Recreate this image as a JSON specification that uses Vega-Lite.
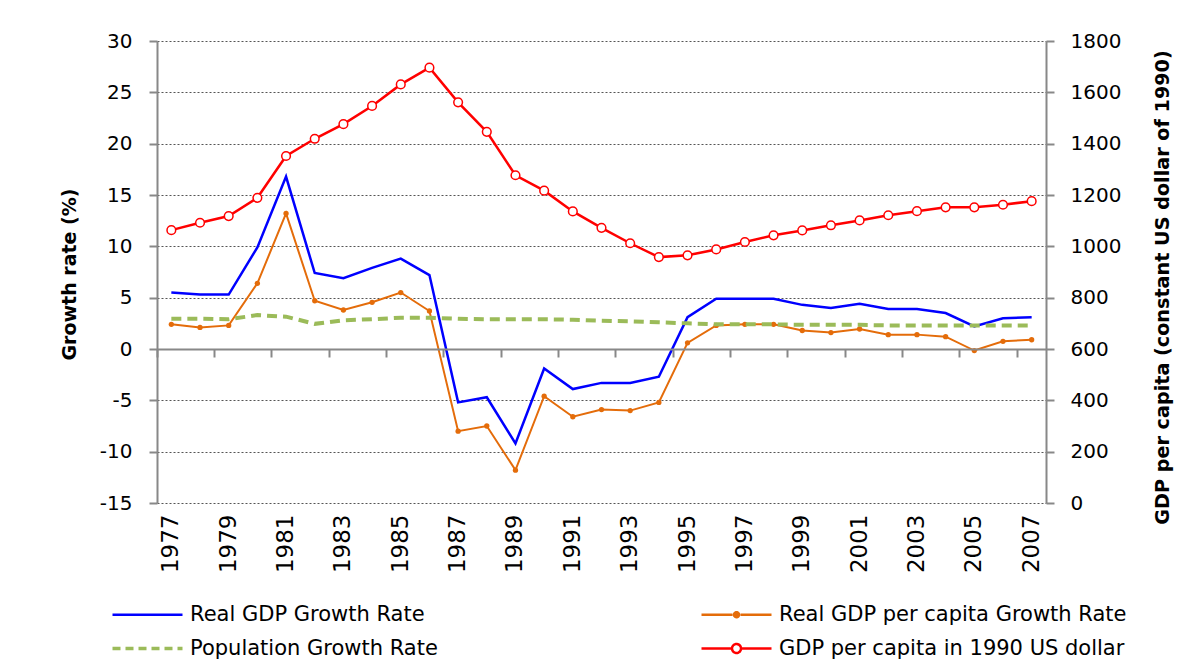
{
  "$schema": "https://vega.github.io/schema/vega-lite/v6.json",
  "width": 889,
  "height": 462,
  "autosize": {"type": "none"},
  "padding": {"left": 157, "top": 41, "right": 149, "bottom": 161},
  "background": "white",
  "config": {
    "view": {"stroke": null},
    "font": "DejaVu Sans",
    "axis": {"labelFont": "DejaVu Sans", "titleFont": "DejaVu Sans", "labelColor": "#000000", "titleColor": "#000000"}
  },
  "data": {
    "values": [
      {"year": 1977, "series": "Real GDP Growth Rate", "value": 5.5},
      {"year": 1978, "series": "Real GDP Growth Rate", "value": 5.3},
      {"year": 1979, "series": "Real GDP Growth Rate", "value": 5.3},
      {"year": 1980, "series": "Real GDP Growth Rate", "value": 9.9},
      {"year": 1981, "series": "Real GDP Growth Rate", "value": 16.8},
      {"year": 1982, "series": "Real GDP Growth Rate", "value": 7.4},
      {"year": 1983, "series": "Real GDP Growth Rate", "value": 6.9},
      {"year": 1984, "series": "Real GDP Growth Rate", "value": 7.9},
      {"year": 1985, "series": "Real GDP Growth Rate", "value": 8.8},
      {"year": 1986, "series": "Real GDP Growth Rate", "value": 7.2},
      {"year": 1987, "series": "Real GDP Growth Rate", "value": -5.2},
      {"year": 1988, "series": "Real GDP Growth Rate", "value": -4.7},
      {"year": 1989, "series": "Real GDP Growth Rate", "value": -9.2},
      {"year": 1990, "series": "Real GDP Growth Rate", "value": -1.9},
      {"year": 1991, "series": "Real GDP Growth Rate", "value": -3.9},
      {"year": 1992, "series": "Real GDP Growth Rate", "value": -3.3},
      {"year": 1993, "series": "Real GDP Growth Rate", "value": -3.3},
      {"year": 1994, "series": "Real GDP Growth Rate", "value": -2.7},
      {"year": 1995, "series": "Real GDP Growth Rate", "value": 3.1},
      {"year": 1996, "series": "Real GDP Growth Rate", "value": 4.9},
      {"year": 1997, "series": "Real GDP Growth Rate", "value": 4.9},
      {"year": 1998, "series": "Real GDP Growth Rate", "value": 4.9},
      {"year": 1999, "series": "Real GDP Growth Rate", "value": 4.3},
      {"year": 2000, "series": "Real GDP Growth Rate", "value": 4.0},
      {"year": 2001, "series": "Real GDP Growth Rate", "value": 4.4},
      {"year": 2002, "series": "Real GDP Growth Rate", "value": 3.9},
      {"year": 2003, "series": "Real GDP Growth Rate", "value": 3.9},
      {"year": 2004, "series": "Real GDP Growth Rate", "value": 3.5},
      {"year": 2005, "series": "Real GDP Growth Rate", "value": 2.2},
      {"year": 2006, "series": "Real GDP Growth Rate", "value": 3.0},
      {"year": 2007, "series": "Real GDP Growth Rate", "value": 3.1},

      {"year": 1977, "series": "Real GDP per capita Growth Rate", "value": 2.4},
      {"year": 1978, "series": "Real GDP per capita Growth Rate", "value": 2.1},
      {"year": 1979, "series": "Real GDP per capita Growth Rate", "value": 2.3},
      {"year": 1980, "series": "Real GDP per capita Growth Rate", "value": 6.4},
      {"year": 1981, "series": "Real GDP per capita Growth Rate", "value": 13.2},
      {"year": 1982, "series": "Real GDP per capita Growth Rate", "value": 4.7},
      {"year": 1983, "series": "Real GDP per capita Growth Rate", "value": 3.8},
      {"year": 1984, "series": "Real GDP per capita Growth Rate", "value": 4.55},
      {"year": 1985, "series": "Real GDP per capita Growth Rate", "value": 5.5},
      {"year": 1986, "series": "Real GDP per capita Growth Rate", "value": 3.7},
      {"year": 1987, "series": "Real GDP per capita Growth Rate", "value": -8.0},
      {"year": 1988, "series": "Real GDP per capita Growth Rate", "value": -7.5},
      {"year": 1989, "series": "Real GDP per capita Growth Rate", "value": -11.8},
      {"year": 1990, "series": "Real GDP per capita Growth Rate", "value": -4.6},
      {"year": 1991, "series": "Real GDP per capita Growth Rate", "value": -6.6},
      {"year": 1992, "series": "Real GDP per capita Growth Rate", "value": -5.9},
      {"year": 1993, "series": "Real GDP per capita Growth Rate", "value": -6.0},
      {"year": 1994, "series": "Real GDP per capita Growth Rate", "value": -5.2},
      {"year": 1995, "series": "Real GDP per capita Growth Rate", "value": 0.6},
      {"year": 1996, "series": "Real GDP per capita Growth Rate", "value": 2.3},
      {"year": 1997, "series": "Real GDP per capita Growth Rate", "value": 2.4},
      {"year": 1998, "series": "Real GDP per capita Growth Rate", "value": 2.4},
      {"year": 1999, "series": "Real GDP per capita Growth Rate", "value": 1.8},
      {"year": 2000, "series": "Real GDP per capita Growth Rate", "value": 1.6},
      {"year": 2001, "series": "Real GDP per capita Growth Rate", "value": 1.95},
      {"year": 2002, "series": "Real GDP per capita Growth Rate", "value": 1.4},
      {"year": 2003, "series": "Real GDP per capita Growth Rate", "value": 1.4},
      {"year": 2004, "series": "Real GDP per capita Growth Rate", "value": 1.2},
      {"year": 2005, "series": "Real GDP per capita Growth Rate", "value": -0.15},
      {"year": 2006, "series": "Real GDP per capita Growth Rate", "value": 0.75},
      {"year": 2007, "series": "Real GDP per capita Growth Rate", "value": 0.9},

      {"year": 1977, "series": "Population Growth Rate", "value": 2.95},
      {"year": 1978, "series": "Population Growth Rate", "value": 2.95},
      {"year": 1979, "series": "Population Growth Rate", "value": 2.9},
      {"year": 1980, "series": "Population Growth Rate", "value": 3.3},
      {"year": 1981, "series": "Population Growth Rate", "value": 3.15},
      {"year": 1982, "series": "Population Growth Rate", "value": 2.45},
      {"year": 1983, "series": "Population Growth Rate", "value": 2.8},
      {"year": 1984, "series": "Population Growth Rate", "value": 2.9},
      {"year": 1985, "series": "Population Growth Rate", "value": 3.05},
      {"year": 1986, "series": "Population Growth Rate", "value": 3.05},
      {"year": 1987, "series": "Population Growth Rate", "value": 2.95},
      {"year": 1988, "series": "Population Growth Rate", "value": 2.9},
      {"year": 1989, "series": "Population Growth Rate", "value": 2.9},
      {"year": 1990, "series": "Population Growth Rate", "value": 2.9},
      {"year": 1991, "series": "Population Growth Rate", "value": 2.85},
      {"year": 1992, "series": "Population Growth Rate", "value": 2.75},
      {"year": 1993, "series": "Population Growth Rate", "value": 2.7},
      {"year": 1994, "series": "Population Growth Rate", "value": 2.6},
      {"year": 1995, "series": "Population Growth Rate", "value": 2.5},
      {"year": 1996, "series": "Population Growth Rate", "value": 2.4},
      {"year": 1997, "series": "Population Growth Rate", "value": 2.4},
      {"year": 1998, "series": "Population Growth Rate", "value": 2.4},
      {"year": 1999, "series": "Population Growth Rate", "value": 2.35},
      {"year": 2000, "series": "Population Growth Rate", "value": 2.35},
      {"year": 2001, "series": "Population Growth Rate", "value": 2.35},
      {"year": 2002, "series": "Population Growth Rate", "value": 2.3},
      {"year": 2003, "series": "Population Growth Rate", "value": 2.3},
      {"year": 2004, "series": "Population Growth Rate", "value": 2.3},
      {"year": 2005, "series": "Population Growth Rate", "value": 2.3},
      {"year": 2006, "series": "Population Growth Rate", "value": 2.3},
      {"year": 2007, "series": "Population Growth Rate", "value": 2.3},

      {"year": 1977, "series": "GDP per capita in 1990 US dollar", "value": 1063},
      {"year": 1978, "series": "GDP per capita in 1990 US dollar", "value": 1092},
      {"year": 1979, "series": "GDP per capita in 1990 US dollar", "value": 1118},
      {"year": 1980, "series": "GDP per capita in 1990 US dollar", "value": 1189},
      {"year": 1981, "series": "GDP per capita in 1990 US dollar", "value": 1352},
      {"year": 1982, "series": "GDP per capita in 1990 US dollar", "value": 1419},
      {"year": 1983, "series": "GDP per capita in 1990 US dollar", "value": 1476},
      {"year": 1984, "series": "GDP per capita in 1990 US dollar", "value": 1547},
      {"year": 1985, "series": "GDP per capita in 1990 US dollar", "value": 1631},
      {"year": 1986, "series": "GDP per capita in 1990 US dollar", "value": 1696},
      {"year": 1987, "series": "GDP per capita in 1990 US dollar", "value": 1561},
      {"year": 1988, "series": "GDP per capita in 1990 US dollar", "value": 1446},
      {"year": 1989, "series": "GDP per capita in 1990 US dollar", "value": 1277},
      {"year": 1990, "series": "GDP per capita in 1990 US dollar", "value": 1217},
      {"year": 1991, "series": "GDP per capita in 1990 US dollar", "value": 1136},
      {"year": 1992, "series": "GDP per capita in 1990 US dollar", "value": 1072},
      {"year": 1993, "series": "GDP per capita in 1990 US dollar", "value": 1012},
      {"year": 1994, "series": "GDP per capita in 1990 US dollar", "value": 958},
      {"year": 1995, "series": "GDP per capita in 1990 US dollar", "value": 965},
      {"year": 1996, "series": "GDP per capita in 1990 US dollar", "value": 988},
      {"year": 1997, "series": "GDP per capita in 1990 US dollar", "value": 1017},
      {"year": 1998, "series": "GDP per capita in 1990 US dollar", "value": 1043},
      {"year": 1999, "series": "GDP per capita in 1990 US dollar", "value": 1062},
      {"year": 2000, "series": "GDP per capita in 1990 US dollar", "value": 1082},
      {"year": 2001, "series": "GDP per capita in 1990 US dollar", "value": 1101},
      {"year": 2002, "series": "GDP per capita in 1990 US dollar", "value": 1121},
      {"year": 2003, "series": "GDP per capita in 1990 US dollar", "value": 1137},
      {"year": 2004, "series": "GDP per capita in 1990 US dollar", "value": 1152},
      {"year": 2005, "series": "GDP per capita in 1990 US dollar", "value": 1152},
      {"year": 2006, "series": "GDP per capita in 1990 US dollar", "value": 1162},
      {"year": 2007, "series": "GDP per capita in 1990 US dollar", "value": 1176}
    ]
  },
  "layer": [
    {
      "encoding": {
        "x": {
          "field": "year", "type": "ordinal",
          "scale": {"type": "band", "paddingInner": 0, "paddingOuter": 0},
          "axis": {
            "orient": "bottom", "offset": -154,
            "values": [1977, 1979, 1981, 1983, 1985, 1987, 1989, 1991, 1993, 1995, 1997, 1999, 2001, 2003, 2005, 2007],
            "bandPosition": 0, "labels": false, "ticks": true, "tickSize": 8, "tickColor": "#888888", "tickWidth": 2,
            "domain": true, "domainColor": "#888888", "domainWidth": 2, "grid": false, "title": null, "zindex": 1
          }
        },
        "y": {
          "field": "value", "type": "quantitative",
          "scale": {"domain": [-15, 30], "nice": false, "zero": false},
          "axis": {
            "values": [-15, -10, -5, 0, 5, 10, 15, 20, 25, 30],
            "labelExpr": "datum.value + ''",
            "grid": true, "gridDash": [2, 2], "gridColor": "#555555", "gridWidth": 1,
            "domainColor": "#888888", "domainWidth": 2, "tickColor": "#888888", "tickWidth": 2, "tickSize": 8,
            "labelFontSize": 20, "labelPadding": 17,
            "title": "Growth rate (%)", "titleFontSize": 19, "titleFontWeight": "bold",
            "titleAngle": -90, "titleAlign": "center", "titleBaseline": "middle", "titleX": -88, "titleY": 233
          }
        }
      },
      "layer": [
        {
          "transform": [{"filter": "datum.series === 'Real GDP per capita Growth Rate'"}],
          "mark": {"type": "line", "strokeWidth": 2},
          "encoding": {
            "color": {
              "field": "series", "type": "nominal",
              "scale": {
                "domain": ["Real GDP Growth Rate", "Population Growth Rate", "Real GDP per capita Growth Rate", "GDP per capita in 1990 US dollar"],
                "range": ["#0000FF", "#9BBB59", "#E46C0A", "#FF0000"]
              },
              "legend": {
                "orient": "none", "legendX": -45, "legendY": 563, "columns": 2, "columnPadding": 258, "rowPadding": 12,
                "title": null, "symbolSize": 400, "labelOffset": 57, "labelFont": "DejaVu Sans", "labelFontSize": 21, "labelColor": "#000000",
                "labelLimit": 500,
                "encode": {
                  "symbols": {
                    "update": {
                      "shape": {"signal": "datum.value === 'Real GDP per capita Growth Rate' ? 'M-1,0L2.1,0M2.9,0L6,0M2.75,0A0.25,0.25,0,1,1,2.25,0A0.25,0.25,0,1,1,2.75,0Z' : datum.value === 'GDP per capita in 1990 US dollar' ? 'M-1,0L2.05,0M2.95,0L6,0M2.95,0A0.45,0.45,0,1,1,2.05,0A0.45,0.45,0,1,1,2.95,0Z' : 'M-1,0L6,0'"},
                      "fill": {"signal": "datum.value === 'Real GDP per capita Growth Rate' ? '#E46C0A' : datum.value === 'GDP per capita in 1990 US dollar' ? '#FFFFFF' : 'transparent'"},
                      "stroke": {"signal": "datum.value === 'Real GDP Growth Rate' ? '#0000FF' : datum.value === 'Real GDP per capita Growth Rate' ? '#E46C0A' : datum.value === 'Population Growth Rate' ? '#9BBB59' : '#FF0000'"},
                      "strokeDash": {"signal": "datum.value === 'Population Growth Rate' ? [8, 5] : [1, 0]"},
                      "strokeWidth": {"signal": "datum.value === 'Population Growth Rate' ? 3.5 : 2.5"},
                      "opacity": {"value": 1}
                    }
                  }
                }
              }
            }
          }
        },
        {
          "transform": [{"filter": "datum.series === 'Real GDP per capita Growth Rate'"}],
          "mark": {"type": "point", "filled": true, "size": 28, "color": "#E46C0A", "opacity": 1}
        },
        {
          "transform": [{"filter": "datum.series === 'Real GDP Growth Rate'"}],
          "mark": {"type": "line", "strokeWidth": 2.5},
          "encoding": {"color": {"field": "series", "type": "nominal"}}
        },
        {
          "transform": [{"filter": "datum.series === 'Population Growth Rate'"}],
          "mark": {"type": "line", "strokeWidth": 4, "strokeDash": [10, 6]},
          "encoding": {"color": {"field": "series", "type": "nominal"}}
        }
      ]
    },
    {
      "encoding": {
        "x": {
          "field": "year", "type": "ordinal",
          "axis": {
            "orient": "bottom",
            "values": [1977, 1979, 1981, 1983, 1985, 1987, 1989, 1991, 1993, 1995, 1997, 1999, 2001, 2003, 2005, 2007],
            "labels": true, "ticks": false, "domain": false, "grid": false, "labelAngle": -90,
            "labelFontSize": 23, "labelPadding": 11, "title": null
          }
        },
        "y": {
          "field": "value", "type": "quantitative",
          "scale": {"domain": [0, 1800], "nice": false},
          "axis": {
            "orient": "right",
            "values": [0, 200, 400, 600, 800, 1000, 1200, 1400, 1600, 1800],
            "labelExpr": "datum.value + ''",
            "grid": false,
            "domainColor": "#888888", "domainWidth": 2, "tickColor": "#888888", "tickWidth": 2, "tickSize": 8,
            "labelFontSize": 20, "labelPadding": 16,
            "title": "GDP per capita (constant US dollar of 1990)", "titleFontSize": 19.2, "titleFontWeight": "bold",
            "titleAngle": -90, "titleAlign": "center", "titleBaseline": "middle", "titleX": 116, "titleY": 246
          }
        }
      },
      "layer": [
        {
          "transform": [{"filter": "datum.series === 'GDP per capita in 1990 US dollar'"}],
          "mark": {"type": "line", "strokeWidth": 2.5},
          "encoding": {"color": {"field": "series", "type": "nominal"}}
        },
        {
          "transform": [{"filter": "datum.series === 'GDP per capita in 1990 US dollar'"}],
          "mark": {"type": "point", "filled": false, "fill": "#FFFFFF", "stroke": "#FF0000", "strokeWidth": 1.5, "size": 75, "opacity": 1}
        }
      ]
    }
  ],
  "resolve": {"scale": {"y": "independent"}, "axis": {"x": "independent"}}
}
